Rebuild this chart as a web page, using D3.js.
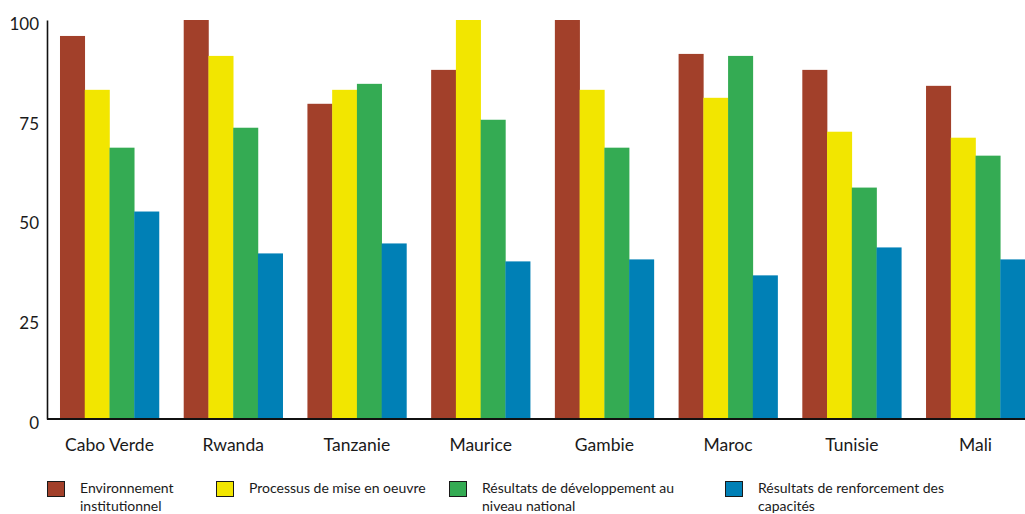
<!DOCTYPE html>
<html>
<head>
<meta charset="utf-8">
<script src="https://cdn.jsdelivr.net/npm/d3@7"></script>
<style>
  html, body { margin: 0; padding: 0; background: #fff; }
  svg { display: block; }
  text { font-family: Lato, "Noto Sans", sans-serif; fill: #1a1a1a; }
</style>
</head>
<body>
<svg id="chart" width="1025" height="514"></svg>
<script>
// Countries on the x axis
const countries = ["Cabo Verde", "Rwanda", "Tanzanie", "Maurice", "Gambie", "Maroc", "Tunisie", "Mali"];

// Series names (legend labels, split over lines)
const seriesNames = [
  ["Environnement", "institutionnel"],
  ["Processus de mise en oeuvre"],
  ["Résultats de développement au", "niveau national"],
  ["Résultats de renforcement des", "capacités"]
];

// Scores per series, one value per country
const environnement = [96, 100, 79, 87.5, 100, 91.5, 87.5, 83.5];
const processus     = [82.5, 91, 82.5, 100, 82.5, 80.5, 72, 70.5];
const developpement = [68, 73, 84, 75, 68, 91, 58, 66];
const renforcement  = [52, 41.5, 44, 39.5, 40, 36, 43, 40];

const yTicks = [0, 25, 50, 75, 100];
const colors = ["#A2402A", "#F2E600", "#34AB53", "#0080B6"];

const series = [environnement, processus, developpement, renforcement];
const keys = ["s0", "s1", "s2", "s3"];
const rows = countries.map((c, i) => {
  const r = { country: c };
  keys.forEach((k, j) => r[k] = series[j][i]);
  return r;
});

const svg = d3.select("#chart");
const x0 = 47, yTop = 20, yBase = 419;

const x = d3.scaleBand()
  .domain(countries)
  .range([x0, 1038])
  .paddingInner(0.2)
  .paddingOuter(0.105);

const xs = d3.scaleBand()
  .domain(keys)
  .range([0, x.bandwidth()])
  .padding(0);

const y = d3.scaleLinear().domain([0, 100]).range([yBase, yTop]);

const color = d3.scaleOrdinal().domain(keys).range(colors);

// Bars
svg.append("g")
  .selectAll("g")
  .data(rows)
  .join("g")
  .attr("transform", d => `translate(${x(d.country)},0)`)
  .selectAll("rect")
  .data(d => keys.map(k => ({ key: k, value: d[k] })))
  .join("rect")
  .attr("x", d => xs(d.key))
  .attr("width", xs.bandwidth() + 0.3)
  .attr("y", d => y(d.value))
  .attr("height", d => y(0) - y(d.value))
  .attr("fill", d => color(d.key));

// Y axis
const yAxis = svg.append("g")
  .attr("transform", `translate(${x0},0)`)
  .call(d3.axisLeft(y).tickValues(yTicks).tickSize(0).tickPadding(8));
yAxis.select(".domain").attr("stroke", "#111").attr("stroke-width", 1.6);
yAxis.selectAll("text")
  .attr("font-size", 17)
  .attr("dy", "0.55em")
  .style("font-family", "Lato, 'Noto Sans', sans-serif")
  .attr("fill", "#1a1a1a");

// X axis
const xAxis = svg.append("g")
  .attr("transform", `translate(0,${yBase})`)
  .call(d3.axisBottom(x).tickSize(0).tickPadding(20));
xAxis.select(".domain").attr("stroke", "#111").attr("stroke-width", 2.2)
  .attr("d", `M${x0},0H1025`);
xAxis.selectAll("text")
  .attr("font-size", 17.5)
  .style("font-family", "Lato, 'Noto Sans', sans-serif")
  .attr("fill", "#1a1a1a");

// Legend
const legendX = [47, 216, 449, 725];
const legend = svg.append("g").attr("transform", "translate(0,480)");
const item = legend.selectAll("g")
  .data(seriesNames)
  .join("g")
  .attr("transform", (d, i) => `translate(${legendX[i]},0)`);
item.append("rect")
  .attr("x", 0.5).attr("y", 1.5)
  .attr("width", 17).attr("height", 15)
  .attr("fill", (d, i) => colors[i])
  .attr("stroke", "#1a1a1a")
  .attr("stroke-width", 1);
item.append("text")
  .attr("x", 33)
  .attr("y", 13)
  .attr("font-size", 14)
  .selectAll("tspan")
  .data(d => d)
  .join("tspan")
  .attr("x", 33)
  .attr("dy", (d, i) => i === 0 ? 0 : 17.5)
  .text(d => d);
</script>
</body>
</html>
